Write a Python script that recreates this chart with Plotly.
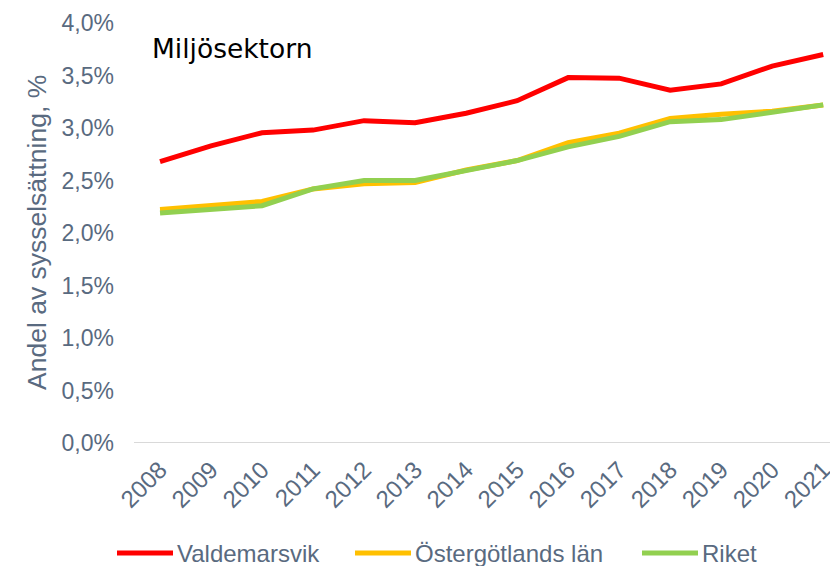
import plotly.graph_objects as go

years = [2008, 2009, 2010, 2011, 2012, 2013, 2014, 2015, 2016, 2017, 2018, 2019, 2020, 2021]
valdemarsvik = [2.68, 2.83, 2.955, 2.98, 3.07, 3.05, 3.14, 3.26, 3.48, 3.475, 3.36, 3.42, 3.59, 3.70]
ostergotland = [2.225, 2.26, 2.30, 2.42, 2.47, 2.48, 2.60, 2.69, 2.86, 2.95, 3.09, 3.13, 3.16, 3.22]
riket = [2.19, 2.22, 2.26, 2.42, 2.50, 2.50, 2.60, 2.69, 2.82, 2.92, 3.06, 3.08, 3.15, 3.22]
y_ticks = [0, 0.5, 1.0, 1.5, 2.0, 2.5, 3.0, 3.5, 4.0]
y_ticklabels = ["0,0%", "0,5%", "1,0%", "1,5%", "2,0%", "2,5%", "3,0%", "3,5%", "4,0%"]
series_names = ["Valdemarsvik", "Östergötlands län", "Riket"]
series_colors = ["#FF0000", "#FFC000", "#92D050"]

txt = "#596A80"
font = "Liberation Sans, Arial, sans-serif"

# page body has an 8px margin; figure coordinates = screen coordinates - 8
OFF = 8
W, H = 838 - OFF, 566 - OFF
L, R, T = 134 - OFF, 0, 23 - OFF
B = H - (443 - OFF)
pw, ph = W - L - R, H - T - B

def px_x(p):
    return (p - OFF - L) / pw

def px_y(p):
    return (H - B - (p - OFF)) / ph

fig = go.Figure()
for name, vals, col in zip(series_names, [valdemarsvik, ostergotland, riket], series_colors):
    fig.add_trace(go.Scatter(x=years, y=vals, name=name, mode="lines",
                             line=dict(color=col, width=5), showlegend=False))

legend_starts = [117, 355, 642]
shapes = [dict(type="line", xref="paper", yref="y", x0=0, x1=1, y0=0, y1=0,
               line=dict(color="#D9D9D9", width=2), layer="below")]
annotations = []
ly = px_y(553)
for name, col, sx in zip(series_names, series_colors, legend_starts):
    shapes.append(dict(type="line", xref="paper", yref="paper",
                       x0=px_x(sx), x1=px_x(sx + 56), y0=ly, y1=ly,
                       line=dict(color=col, width=5)))
    annotations.append(dict(text=name, xref="paper", yref="paper",
                            x=px_x(sx + 58), y=ly, xanchor="left", yanchor="middle",
                            showarrow=False, font=dict(size=24, color=txt)))

annotations += [
    dict(text="Miljösektorn", xref="paper", yref="paper", x=px_x(150), y=px_y(48),
         xanchor="left", yanchor="middle", showarrow=False,
         font=dict(family="DejaVu Sans, sans-serif", size=26.5, color="#000000")),
    dict(text="Andel av sysselsättning, %", xref="paper", yref="paper",
         x=px_x(37), y=px_y(233), xanchor="center", yanchor="middle", textangle=-90,
         showarrow=False, font=dict(size=26.5, color=txt)),
]

fig.update_layout(
    width=W, height=H,
    margin=dict(l=L, r=R, t=T, b=B, autoexpand=False),
    paper_bgcolor="white", plot_bgcolor="white",
    font=dict(family=font, color=txt, size=22),
    showlegend=False,
    xaxis=dict(range=[2007.49, 2021.29], tickvals=years, ticktext=[str(y) for y in years],
               tickangle=-45, showgrid=False, zeroline=False, showline=False,
               automargin=False, ticklabelstandoff=7, tickfont=dict(size=24, color=txt)),
    yaxis=dict(range=[0, 4.0], tickvals=y_ticks, ticktext=y_ticklabels,
               showgrid=False, zeroline=False, showline=False, automargin=False,
               ticklabelstandoff=19, tickfont=dict(size=23, color=txt)),
    annotations=annotations,
    shapes=shapes,
)

fig.write_html("out.html")
